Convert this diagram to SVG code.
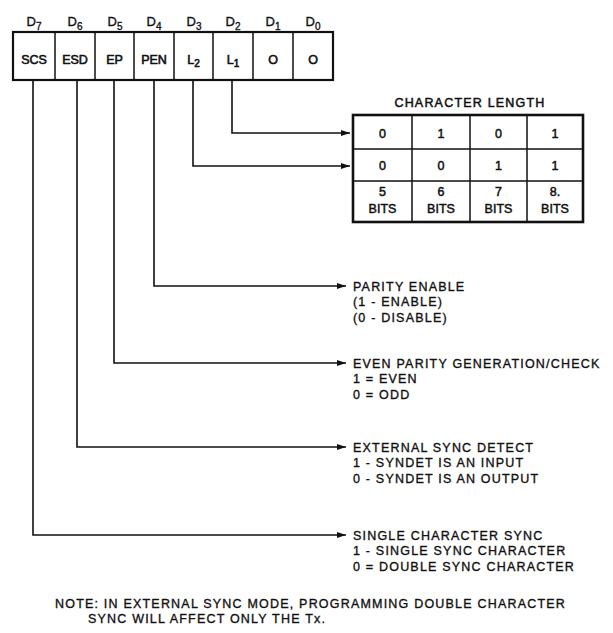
<svg xmlns="http://www.w3.org/2000/svg" width="613" height="633" viewBox="0 0 613 633">
<defs>
<marker id="arr" markerUnits="userSpaceOnUse" markerWidth="9" markerHeight="6" refX="9" refY="3" orient="auto">
<path d="M0,0 L9,3 L0,6 z" fill="#111"/>
</marker>
<style>
text{font-family:"Liberation Sans",Arial,Helvetica,sans-serif;fill:#111;stroke:#111;stroke-width:0.35}
.lbl{font-size:12.5px;letter-spacing:1.2px}
.bit{font-size:13px;text-anchor:middle}
.cell{font-size:12.5px;text-anchor:middle;stroke-width:0.6}
.tv{font-size:12.5px;text-anchor:middle;stroke-width:0.5}
.sub{font-size:10px}
.box{fill:#fff;stroke:#111;stroke-width:2.2}
.div{stroke:#111;stroke-width:1.5}
.con{fill:none;stroke:#111;stroke-width:1.6;marker-end:url(#arr)}
</style>
</defs>
<rect width="613" height="633" fill="#fff"/>

<g id="register">
<g id="bit-labels">
<text class="bit" x="34" y="26">D<tspan class="sub" dy="4">7</tspan></text>
<text class="bit" x="75" y="26">D<tspan class="sub" dy="4">6</tspan></text>
<text class="bit" x="115" y="26">D<tspan class="sub" dy="4">5</tspan></text>
<text class="bit" x="154" y="26">D<tspan class="sub" dy="4">4</tspan></text>
<text class="bit" x="194" y="26">D<tspan class="sub" dy="4">3</tspan></text>
<text class="bit" x="233" y="26">D<tspan class="sub" dy="4">2</tspan></text>
<text class="bit" x="273" y="26">D<tspan class="sub" dy="4">1</tspan></text>
<text class="bit" x="313" y="26">D<tspan class="sub" dy="4">0</tspan></text>
</g>
<rect class="box" x="13" y="32" width="320" height="48"/>
<path class="div" d="M55,32V80M95,32V80M134,32V80M174,32V80M213,32V80M253,32V80M293,32V80"/>
<text class="cell" x="34" y="64">SCS</text>
<text class="cell" x="75" y="64">ESD</text>
<text class="cell" x="114.5" y="64">EP</text>
<text class="cell" x="154" y="64">PEN</text>
<text class="cell" x="193.5" y="64">L<tspan class="sub" dy="3">2</tspan></text>
<text class="cell" x="233" y="64">L<tspan class="sub" dy="3">1</tspan></text>
<text class="cell" x="273" y="64">O</text>
<text class="cell" x="313" y="64">O</text>
</g>

<g id="connectors">
<path class="con" d="M232,80V133H350"/>
<path class="con" d="M193,80V166H350"/>
<path class="con" d="M154,80V286H346"/>
<path class="con" d="M114,80V363H346"/>
<path class="con" d="M77,80V447H346"/>
<path class="con" d="M33,80V535H346"/>
</g>

<g id="character-length">
<text class="lbl" x="470" y="107" text-anchor="middle" style="stroke-width:0.5">CHARACTER LENGTH</text>
<rect class="box" x="353" y="115" width="230" height="107" style="stroke-width:2.6"/>
<path class="div" d="M353,149H583M353,181H583M412,115V222M470,115V222M527,115V222"/>
<text class="tv" x="382.5" y="138">0</text>
<text class="tv" x="441" y="138">1</text>
<text class="tv" x="498.5" y="138">0</text>
<text class="tv" x="555" y="138">1</text>
<text class="tv" x="382.5" y="170">0</text>
<text class="tv" x="441" y="170">0</text>
<text class="tv" x="498.5" y="170">1</text>
<text class="tv" x="555" y="170">1</text>
<text class="tv" x="382.5" y="196">5</text>
<text class="tv" x="441" y="196">6</text>
<text class="tv" x="498.5" y="196">7</text>
<text class="tv" x="555" y="196">8.</text>
<text class="tv" x="382.5" y="213">BITS</text>
<text class="tv" x="441" y="213">BITS</text>
<text class="tv" x="498.5" y="213">BITS</text>
<text class="tv" x="555" y="213">BITS</text>
</g>

<g id="parity-enable">
<text class="lbl" x="353" y="290.5">PARITY ENABLE</text>
<text class="lbl" x="353" y="306">(1 - ENABLE)</text>
<text class="lbl" x="353" y="321.5">(0 - DISABLE)</text>
</g>

<g id="even-parity">
<text class="lbl" x="353" y="367.5">EVEN PARITY GENERATION/CHECK</text>
<text class="lbl" x="353" y="383">1 = EVEN</text>
<text class="lbl" x="353" y="398.5">0 = ODD</text>
</g>

<g id="external-sync">
<text class="lbl" x="353" y="451.5">EXTERNAL SYNC DETECT</text>
<text class="lbl" x="353" y="467">1 - SYNDET IS AN INPUT</text>
<text class="lbl" x="353" y="482.5">0 - SYNDET IS AN OUTPUT</text>
</g>

<g id="single-sync">
<text class="lbl" x="353" y="539.5">SINGLE CHARACTER SYNC</text>
<text class="lbl" x="353" y="555">1 - SINGLE SYNC CHARACTER</text>
<text class="lbl" x="353" y="570.5">0 = DOUBLE SYNC CHARACTER</text>
</g>

<g id="note">
<text class="lbl" x="55" y="607.5">NOTE: IN EXTERNAL SYNC MODE, PROGRAMMING DOUBLE CHARACTER</text>
<text class="lbl" x="88" y="623">SYNC WILL AFFECT ONLY THE Tx.</text>
</g>
</svg>
